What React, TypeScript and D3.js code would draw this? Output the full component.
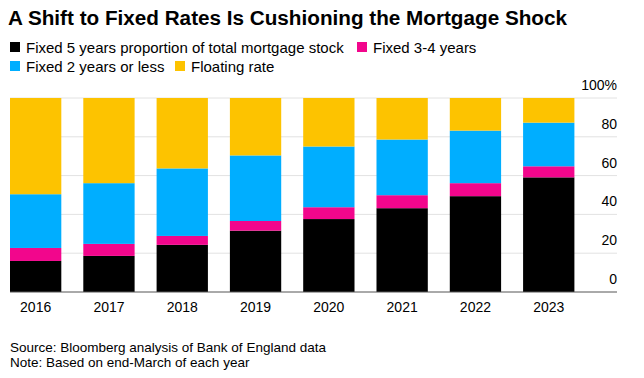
import React from "react";
import * as d3 from "d3";

const years = ["2016", "2017", "2018", "2019", "2020", "2021", "2022", "2023"];
const fixed5 = [16.0, 18.6, 24.3, 31.6, 37.6, 43.2, 49.4, 59.1];
const fixed34 = [6.7, 6.2, 4.6, 5.0, 6.1, 6.7, 6.7, 5.7];
const fixed2 = [27.7, 31.3, 34.8, 33.8, 31.3, 28.7, 27.1, 22.5];
const floating = [49.6, 43.9, 36.3, 29.6, 25.0, 21.4, 16.8, 12.7];
const yTicks = [0, 20, 40, 60, 80, 100];

const seriesNames = [
  "Fixed 5 years proportion of total mortgage stock",
  "Fixed 3-4 years",
  "Fixed 2 years or less",
  "Floating rate",
];
const seriesKeys = ["fixed5", "fixed34", "fixed2", "floating"];
const colors = ["#000000", "#f2068c", "#00aeff", "#fdc300"];

export default function App() {
  const W = 644;
  const H = 378;
  const table = years.map((y, i) => ({
    year: y,
    fixed5: fixed5[i],
    fixed34: fixed34[i],
    fixed2: fixed2[i],
    floating: floating[i],
  }));
  const stack = d3.stack<any>().keys(seriesKeys)(table);

  const x = d3.scaleBand<string>().domain(years).range([10, 574.4]).paddingInner(0.3).paddingOuter(0);
  const y = d3.scaleLinear().domain([0, 100]).range([292, 98]);
  const gridX1 = 10;
  const gridX2 = 617;

  const font = "'Liberation Sans', Arial, Helvetica, sans-serif";

  const legendItems = [
    { i: 0, x: 10, y: 47 },
    { i: 1, x: 357, y: 47 },
    { i: 2, x: 10, y: 66 },
    { i: 3, x: 175, y: 66 },
  ];

  return (
    <svg width={W} height={H} style={{ position: "absolute", left: 0, top: 0, background: "#fff" }} fontFamily={font}>
      <text x={8} y={25} fontSize={20.7} fontWeight="bold" fill="#000">
        A Shift to Fixed Rates Is Cushioning the Mortgage Shock
      </text>
      {legendItems.map((l) => (
        <g key={l.i}>
          <rect x={l.x} y={l.y - 5} width={10} height={10} fill={colors[l.i]} />
          <text x={l.x + 16} y={l.y + 5.5} fontSize={15} fill="#000">
            {seriesNames[l.i]}
          </text>
        </g>
      ))}
      {yTicks.map((t) => (
        <g key={t}>
          {t !== 0 && (
            <line x1={gridX1} x2={gridX2} y1={y(t)} y2={y(t)} stroke="#e2e2e2" strokeWidth={1} />
          )}
          <text x={gridX2} y={y(t) - 8} fontSize={14} fill="#000" textAnchor="end">
            {t}
            {t === 100 ? <tspan>%</tspan> : null}
          </text>
        </g>
      ))}
      {stack.map((s, si) =>
        s.map((d: any, i: number) => (
          <rect
            key={`${si}-${i}`}
            x={x(years[i])}
            width={x.bandwidth()}
            y={y(d[1])}
            height={y(d[0]) - y(d[1])}
            fill={colors[si]}
          />
        ))
      )}
      <line x1={gridX1} x2={gridX2} y1={y(0)} y2={y(0)} stroke="#555" strokeWidth={1} />
      {years.map((yr) => (
        <text key={yr} x={(x(yr) as number) + x.bandwidth() / 2} y={312} fontSize={14} textAnchor="middle" fill="#000">
          {yr}
        </text>
      ))}
      <text x={10} y={352} fontSize={13.5} fill="#000">
        Source: Bloomberg analysis of Bank of England data
      </text>
      <text x={10} y={367} fontSize={13.5} fill="#000">
        Note: Based on end-March of each year
      </text>
    </svg>
  );
}
